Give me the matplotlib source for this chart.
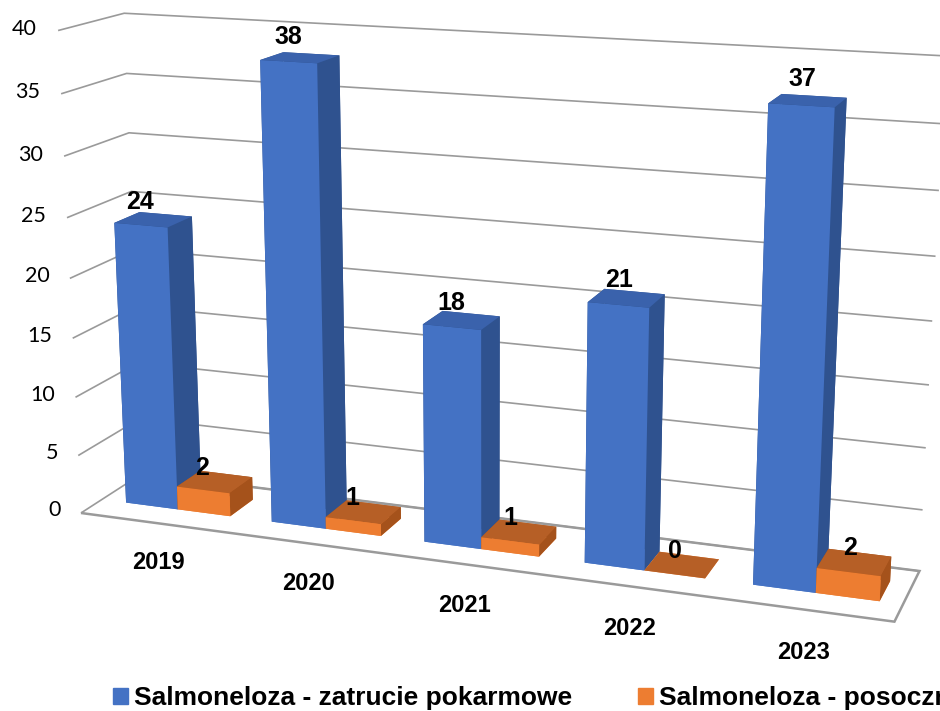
import matplotlib.pyplot as plt
import numpy as np
from matplotlib.patches import Patch

years = ['2019', '2020', '2021', '2022', '2023']
zatrucie = [24, 38, 18, 21, 37]
posocznica = [2, 1, 1, 0, 2]
z_ticks = [0, 5, 10, 15, 20, 25, 30, 35, 40]
series_names = ['Salmoneloza - zatrucie pokarmowe', 'Salmoneloza - posocznica']

# kolory ścian: przód, bok, góra
blue = {'front': '#4472C4', 'side': '#2F528F', 'top': '#3A62AC'}
orange = {'front': '#ED7D31', 'side': '#A5521B', 'top': '#B65F26'}

plt.rcParams['font.family'] = ['Liberation Sans', 'DejaVu Sans']

fig = plt.figure(figsize=(9.4, 7.11), dpi=100)
ax = fig.add_axes([-0.0633, 0.066, 1.14, 1.0], projection='3d', computed_zorder=False)

bw = 0.36   # szerokość słupka
bd = 0.4    # głębokość słupka
y0 = 0.33

# słupki rysowane od lewej do prawej, żeby bliższe zasłaniały dalsze
for i in range(len(years)):
    for k, (vals, c) in enumerate([(zatrucie, blue), (posocznica, orange)]):
        # kolejność ścian: -z, +z, -y, +y, -x, +x
        face_cols = [c['front'], c['top'], c['front'], c['side'], c['side'], c['side']]
        bars = ax.bar3d(i - bw + k * bw, y0, 0, bw, bd, vals[i], color=face_cols,
                        shade=False, edgecolor='none', zorder=2 + 2 * i + k)
        bars.set_clip_on(False)

xmin, xmax = -bw - 0.17, len(years) - 1 + bw + 0.13
ax.set_xlim(xmin, xmax)
ax.set_ylim(0, 1)
ax.set_zlim(0, 40)
ax.set_box_aspect((5.555, 0.88, 3.3), zoom=1.389)
ax.set_proj_type('persp', focal_length=0.6)
ax.view_init(elev=14.75, azim=-70)

# siatka tylko dla osi z
ax.set_xticks([])
ax.set_yticks([])
ax.set_zticks(z_ticks)
ax.zaxis.set_ticklabels([])
ax.zaxis._axinfo['grid'].update(color='#9a9a9a', linewidth=1.2)
ax.zaxis._axinfo['tick'].update(inward_factor=0, outward_factor=0)
for a in (ax.xaxis, ax.yaxis, ax.zaxis):
    a.line.set_color('none')
    a.set_pane_color((1, 1, 1, 1))
    a.pane.set_edgecolor('none')
ax.zaxis.pane.set_edgecolor('#9a9a9a')
ax.zaxis.pane.set_linewidth(1.8)

for t in z_ticks:
    ax.text(xmin - 0.14, 0, t, str(t), ha='right', va='center', fontsize=15.5,
            family=['Lato', 'DejaVu Sans'], zorder=20)

for i, y in enumerate(years):
    ax.text(i - 0.005, 0, -3.4, y, ha='center', va='center', fontsize=17,
            fontweight='bold', zorder=20)
    ax.text(i - bw / 2, y0, zatrucie[i] + 1.9, str(zatrucie[i]),
            ha='center', va='center', fontsize=18, fontweight='bold', zorder=20)
    ax.text(i + bw / 2, y0, posocznica[i] + 1.9, str(posocznica[i]),
            ha='center', va='center', fontsize=18, fontweight='bold', zorder=20)

handles = [Patch(color=blue['front']), Patch(color=orange['front'])]
fig.legend(handles, series_names, loc='center left', bbox_to_anchor=(113 / 940, 1 - 698 / 711),
           ncol=2, frameon=False, prop={'weight': 'bold', 'size': 19},
           handlelength=0.55, handleheight=0.55, handletextpad=0.25, columnspacing=2.5,
           borderpad=0, borderaxespad=0)

fig.savefig('out.png', dpi=100)
